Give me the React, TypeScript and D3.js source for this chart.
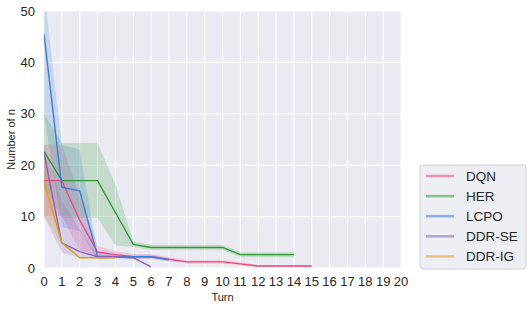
import React from 'react';
import * as d3 from 'd3';

// per-series mean and confidence band
const turnTicks = d3.range(0, 21);
const yTicks = [0, 10, 20, 30, 40, 50];
const seriesNames = ['DQN', 'HER', 'LCPO', 'DDR-SE', 'DDR-IG'];
const seriesColors = ['#f2477f', '#2f9a33', '#3a7fd6', '#8b60bd', '#d9a21c'];

const dqnMean = [17, 17, 9.3, 3.1, 2.6, 2.2, 2.2, 1.7, 1.2, 1.2, 1.2, 0.8, 0.4, 0.4, 0.4, 0.4];
const dqnLo = [10, 10, 3.5, 2.3, 2.0, 1.8, 1.8, 1.3, 0.9, 0.9, 0.9, 0.5, 0.2, 0.2, 0.2, 0.2];
const dqnHi = [24, 24, 14, 4.3, 3.3, 2.7, 2.7, 2.1, 1.5, 1.5, 1.5, 1.1, 0.6, 0.6, 0.6, 0.6];

const herMean = [22.7, 17, 17, 17, 10.8, 4.6, 4.0, 4.0, 4.0, 4.0, 4.0, 2.6, 2.6, 2.6, 2.6];
const herLo = [16, 9.8, 9.8, 9.8, 4.4, 4.1, 3.5, 3.5, 3.5, 3.5, 3.5, 2.1, 2.1, 2.1, 2.1];
const herHi = [30, 24.3, 24.3, 24.3, 16.3, 5.2, 4.5, 4.5, 4.5, 4.5, 4.5, 3.1, 3.1, 3.1, 3.1];

const lcpoMean = [45.5, 15.7, 15.0, 2.3, 2.2, 2.2, 2.2, 1.6];
const lcpoLo = [30, 8, 7.2, 1.6, 1.8, 1.8, 1.8, 1.3];
const lcpoHi = [54, 24, 23, 3.0, 2.6, 2.6, 2.6, 1.9];

const seMean = [22.3, 4.9, 3.2, 2.2, 2.2, 2.0, 0.2];
const seLo = [10, 3.0, 2.0, 2.0, 2.0, 1.8, 0.2];
const seHi = [24, 13, 7.5, 2.5, 2.5, 2.2, 0.2];

const igMean = [16.6, 4.9, 2.0, 2.0, 2.0];
const igLo = [10, 4.6, 1.8, 1.8, 1.8];
const igHi = [23, 5.2, 2.2, 2.2, 2.2];

const means = [dqnMean, herMean, lcpoMean, seMean, igMean];
const los = [dqnLo, herLo, lcpoLo, seLo, igLo];
const his = [dqnHi, herHi, lcpoHi, seHi, igHi];

const W = 531;
const H = 310;
const margin = { left: 44, top: 11, right: 130, bottom: 42 };

export default function App() {
  const x = d3.scaleLinear().domain([0, 20]).range([margin.left, W - margin.right]);
  const y = d3.scaleLinear().domain([0, 50]).range([H - margin.bottom, margin.top]);
  const font = 'Liberation Sans, Arial, sans-serif';

  const line = d3.line<number>().x((d, i) => x(i)).y(d => y(d));

  const legendX = 420;
  const legendY = 165;

  return (
    <svg width={W} height={H} style={{ display: 'block', position: 'absolute', left: 0, top: 0 }}>
      <defs>
        <clipPath id="plot">
          <rect x={x(0)} y={y(50)} width={x(20) - x(0)} height={y(0) - y(50)} />
        </clipPath>
      </defs>
      <rect x={x(0)} y={y(50)} width={x(20) - x(0)} height={y(0) - y(50)} fill="#eaeaf2" />
      {turnTicks.map(t => (
        <line key={'gx' + t} x1={x(t)} x2={x(t)} y1={y(0)} y2={y(50)} stroke="#fff" strokeWidth={1} />
      ))}
      {yTicks.map(t => (
        <line key={'gy' + t} x1={x(0)} x2={x(20)} y1={y(t)} y2={y(t)} stroke="#fff" strokeWidth={1} />
      ))}
      <g clipPath="url(#plot)">
        {means.map((m, k) => {
          const area = d3.area<number>()
            .x((d, i) => x(i))
            .y0((d, i) => y(los[k][i]))
            .y1((d, i) => y(his[k][i]));
          return <path key={'b' + k} d={area(m) || ''} fill={seriesColors[k]} fillOpacity={0.2} />;
        })}
        {means.map((m, k) => (
          <path key={'l' + k} d={line(m) || ''} fill="none" stroke={seriesColors[k]} strokeWidth={1.4} />
        ))}
      </g>
      {yTicks.map(t => (
        <text key={'ty' + t} x={35} y={y(t)} dy="0.35em" textAnchor="end" fontSize={13} fontFamily={font} fill="#262626">{t}</text>
      ))}
      {turnTicks.map(t => (
        <text key={'tx' + t} x={x(t)} y={286} textAnchor="middle" fontSize={13} fontFamily={font} fill="#262626">{t}</text>
      ))}
      <text x={(x(0) + x(20)) / 2} y={301} textAnchor="middle" fontSize={11} fontFamily={font} fill="#262626">Turn</text>
      <text transform={`translate(15,${(y(0) + y(50)) / 2}) rotate(-90)`} textAnchor="middle" fontSize={11} fontFamily={font} fill="#262626">Number of n</text>
      <rect x={legendX} y={legendY} width={106} height={104} rx={3} fill="#eaeaf2" fillOpacity={0.8} stroke="#cfcfd6" />
      {seriesNames.map((name, k) => {
        const cy = legendY + 11 + k * 20.1;
        return (
          <g key={'lg' + k}>
            <line x1={426} x2={454} y1={cy} y2={cy} stroke={seriesColors[k]} strokeOpacity={0.55} strokeWidth={2.5} />
            <text x={466} y={cy} dy="0.36em" fontSize={13.5} fontFamily={font} fill="#262626">{name}</text>
          </g>
        );
      })}
    </svg>
  );
}
